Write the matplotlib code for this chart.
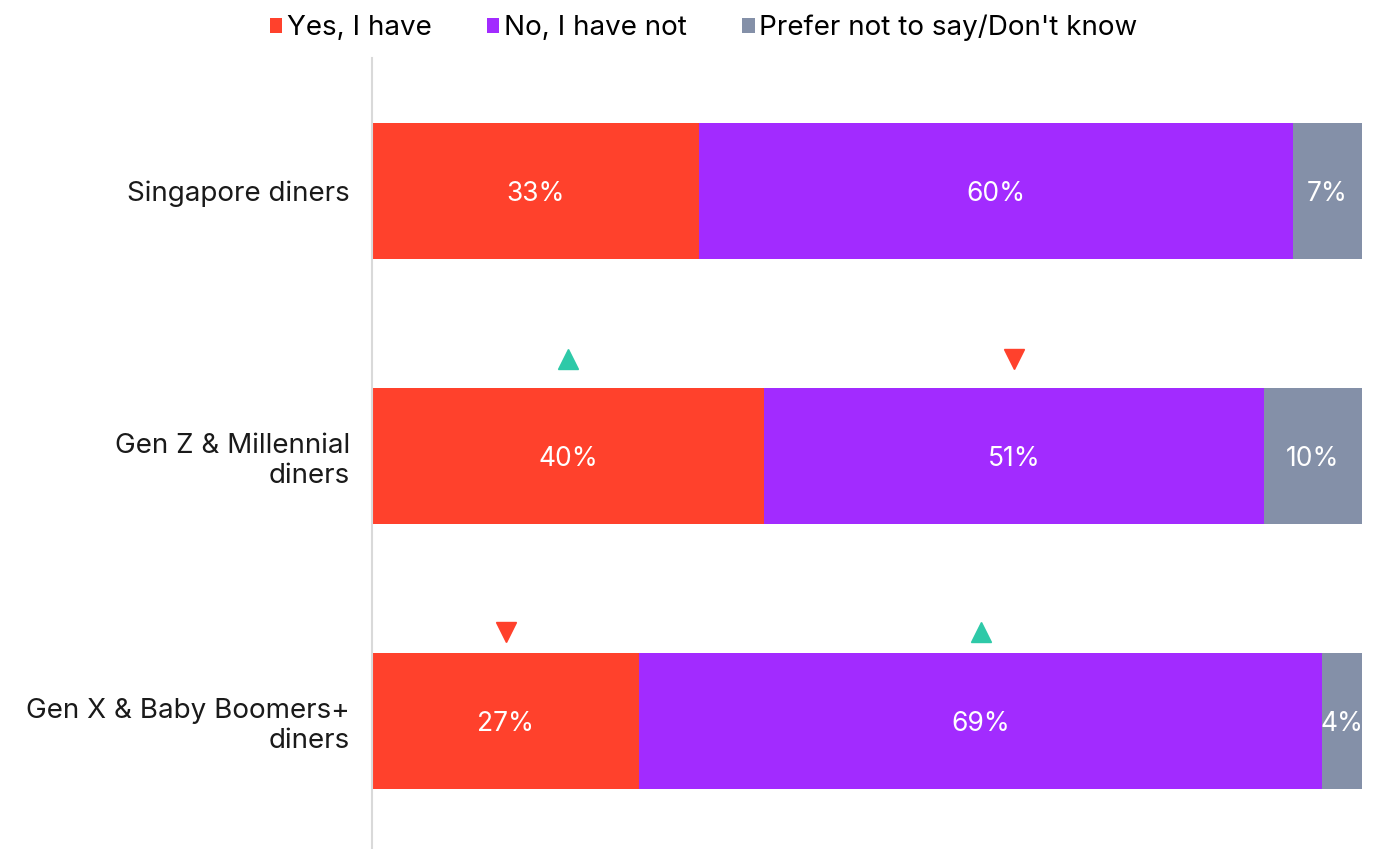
import matplotlib.pyplot as plt
import numpy as np

# survey answers per diner group (percent)
groups = ['Singapore diners', 'Gen Z & Millennial\ndiners', 'Gen X & Baby Boomers+\ndiners']
answers = ['Yes, I have', 'No, I have not', "Prefer not to say/Don't know"]
yes_vals = [33, 40, 27]
no_vals = [60, 51, 69]
unsure_vals = [7, 10, 4]
colors = ['#FF412C', '#A22BFF', '#8490A8']

# significance markers: (group index, answer index, 'up'/'down')
sig_marks = [(1, 0, 'up'), (1, 1, 'down'), (2, 0, 'down'), (2, 1, 'up')]
# how far above the bar centre the markers sit, per group
mark_offset = {1: 0.365, 2: 0.335}

plt.rcParams['font.family'] = ['Inter', 'DejaVu Sans']

vals = np.array([yes_vals, no_vals, unsure_vals], dtype=float)
# scale each row to a full 100% bar
shares = vals / vals.sum(axis=0) * 100

fig = plt.figure(figsize=(13.82, 8.49), dpi=100)
ax = fig.add_axes([372 / 1382, 0, 990 / 1382, 1 - 58 / 849])

y = np.arange(len(groups))
left = np.zeros(len(groups))
for i, name in enumerate(answers):
    ax.barh(y, shares[i], left=left, height=0.513, color=colors[i], label=name)
    for j in range(len(groups)):
        ax.text(left[j] + shares[i][j] / 2, y[j] + 0.01, f'{int(vals[i][j])}%',
                ha='center', va='center', color='white', fontsize=19)
    left += shares[i]

# up / down arrows above the segments
starts = np.vstack([np.zeros(len(groups)), np.cumsum(shares, axis=0)[:-1]])
for g, a, d in sig_marks:
    xc = starts[a][g] + shares[a][g] / 2
    if d == 'up':
        ax.plot(xc, g - mark_offset[g], marker='^', color='#2EC9A8', markersize=15, ls='none')
    else:
        ax.plot(xc, g - mark_offset[g], marker='v', color='#FF412C', markersize=15, ls='none')

ax.set_xlim(0, 100)
ax.set_ylim(2.483, -0.502)
ax.set_yticks(y)
ax.set_yticklabels(groups, fontsize=20, color='#1a1a1a')
ax.tick_params(axis='y', length=0, pad=16)
ax.set_xticks([])
for s in ['top', 'right', 'bottom']:
    ax.spines[s].set_visible(False)
ax.spines['left'].set_color('#d9d9d9')
ax.spines['left'].set_linewidth(1.5)

fig.legend(loc='upper center', bbox_to_anchor=(0.509, 1.012), ncol=3, frameon=False,
           fontsize=20, handlelength=0.45, handleheight=0.45, handletextpad=0.15,
           columnspacing=2.0)

fig.savefig('out.png', dpi=100)
